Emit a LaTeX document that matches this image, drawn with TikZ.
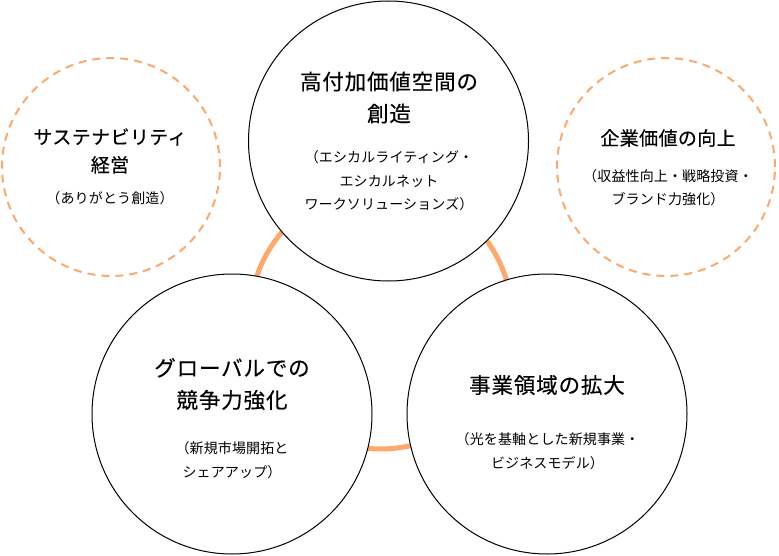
\documentclass[tikz,border=0pt]{standalone}
\usepackage{fontspec}
\usepackage{tikz}
\usetikzlibrary{positioning}
\newfontfamily\cjkbig[LetterSpace=4,FakeBold=0.3]{Noto Sans CJK JP}
\newfontfamily\cjkmid[LetterSpace=2,FakeBold=0.3]{Noto Sans CJK JP}
\newfontfamily\cjksmall[LetterSpace=1]{Noto Sans CJK JP}
\definecolor{ring}{HTML}{FFA86B}

\begin{document}
\begin{tikzpicture}[x=1pt, y=-1pt,
every node/.style = {align=center, inner sep=0pt},
  core/.style = {circle, draw, fill=white, line width=1pt, minimum size=280pt},
  aim/.style = {circle, draw=ring, line width=2pt, dash pattern=on 8pt off 6pt, minimum size=218pt},
  bigtitle/.style = {font=\fontsize{21.5}{32}\cjkbig},
  midtitle/.style = {font=\fontsize{19}{28}\cjkmid},
  note/.style = {font=\fontsize{14}{23.5}\cjksmall}
]
\useasboundingbox (0,0) rectangle (779,556);
% ring behind the three circles
\draw[ring, line width=5pt] (381,318) circle (131);

\node[core] (create) at (388.5,141) {};
\node[core] (global) at (232,414) {};
\node[core] (expand) at (547,414) {};
\node[aim] (sustain) at (111,167) {};
\node[aim] (value) at (666,167) {};

\node[bigtitle] (createT) at (389,97.5) {高付加価値空間の\\創造};
\node[note] (createN) at (389,181) {（エシカルライティング・\\エシカルネット\\ワークソリューションズ）};
\node[bigtitle] (globalT) at (232,384) {グローバルでの\\競争力強化};
\node[note] (globalN) at (232,460) {（新規市場開拓と\\シェアアップ）};
\node[bigtitle] (expandT) at (547,385) {事業領域の拡大};
\node[note] (expandN) at (547.5,451) {（光を基軸とした新規事業・\\ビジネスモデル）};
\node[midtitle] (sustainT) at (110,151) {サステナビリティ\\経営};
\node[note] (sustainN) at (110,198) {（ありがとう創造）};
\node[midtitle] (valueT) at (668,138) {企業価値の向上};
\node[note] (valueN) at (668,187.5) {（収益性向上・戦略投資・\\ブランド力強化）};
\end{tikzpicture}
\end{document}
